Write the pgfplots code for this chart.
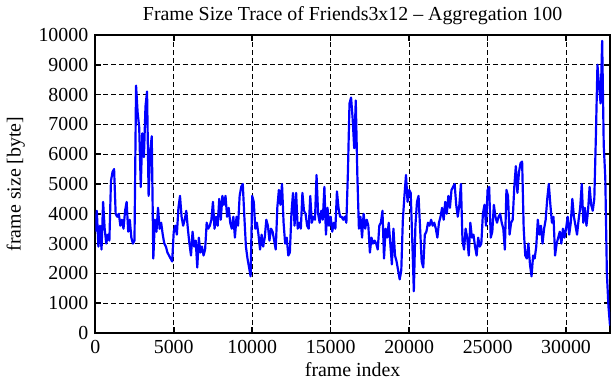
\documentclass[border=0pt]{standalone}
\usepackage{fontspec}
\setmainfont{Liberation Serif}
\usepackage{pgfplots}
\pgfplotsset{compat=1.18}
\begin{document}
\begin{tikzpicture}
\begin{axis}[
  scale only axis, width=259pt, height=150pt,
  xmin=0, xmax=32800, ymin=0, ymax=10000,
  xtick={0,5000,...,30000}, ytick={0,1000,...,10000},
  grid=major,
  grid style={black, line width=0.5pt, dash pattern=on 2.5pt off 1.5pt},
  axis line style={line width=1pt},
  tick style={black, line width=0.8pt},
  major tick length=3pt,
  tick align=inside,
  scaled ticks=false,
  /pgf/number format/1000 sep={},
  /pgf/number format/assume math mode=true,
  title={Frame Size Trace of Friends3x12 -- Aggregation 100},
  title style={yshift=-4.5pt},
  xlabel={frame index}, ylabel={frame size [byte]},
  xlabel style={yshift=2.5pt},
]
\addplot[color={rgb,255:red,0;green,0;blue,255}, line width=1.1pt, line join=round] table {
x y
0 3400
100 4100
200 2900
300 3600
400 2800
500 4400
600 3500
700 3000
800 3300
900 3100
1000 5100
1100 5400
1200 5500
1300 4000
1400 3900
1500 4000
1600 3600
1700 3800
1800 3500
1900 4100
2000 4400
2100 3400
2200 3800
2300 3200
2400 3000
2500 3100
2600 8300
2700 7400
2800 6900
2900 4900
3000 6700
3100 5900
3200 7600
3300 8100
3400 4600
3500 6100
3600 6600
3700 2500
3800 3800
3900 3400
4000 4200
4100 3500
4200 3700
4300 3300
4400 3000
4500 2900
4600 2700
4700 2600
4800 2500
4900 2400
5000 3400
5100 3600
5200 3300
5300 4200
5400 4600
5500 3900
5600 3600
5700 3800
5800 4100
5900 3500
6000 3000
6100 2600
6200 3400
6300 2900
6400 3100
6500 2200
6600 3200
6700 2700
6800 2900
6900 2600
7000 2800
7100 3700
7200 3500
7300 3600
7400 3800
7500 4400
7600 3500
7700 3900
7800 3600
7900 4500
8000 3800
8100 4600
8200 4300
8300 4600
8400 3900
8500 4200
8600 3700
8700 3500
8800 3900
8900 3200
9000 3900
9100 3600
9200 4600
9300 4900
9400 5000
9500 3900
9600 2900
9700 2500
9800 2200
9900 1900
10000 4600
10100 4400
10200 3500
10300 3700
10400 3300
10500 2800
10600 3300
10700 2900
10800 3200
10900 3800
11000 3600
11100 3100
11200 3500
11300 3400
11400 3100
11500 2800
11600 4200
11700 4800
11800 4300
11900 5000
12000 3700
12100 3000
12200 3200
12300 2600
12400 2700
12500 4000
12600 4700
12700 3600
12800 4700
12900 3500
13000 3700
13100 3500
13200 4700
13300 4100
13400 4000
13500 3600
13600 3500
13700 4600
13800 3700
13900 3900
14000 3800
14100 5300
14200 4000
14300 3700
14400 4100
14500 3800
14600 4900
14700 3300
14800 4200
14900 3600
15000 3900
15100 3400
15200 3700
15300 3500
15400 4750
15500 4200
15600 3900
15700 3900
15800 3800
15900 3900
16000 3700
16100 5400
16200 7700
16300 7900
16400 7200
16500 6200
16600 7800
16700 5300
16800 3500
16900 3900
17000 3200
17100 4000
17200 3500
17300 3800
17400 3600
17500 2700
17600 3200
17700 3000
17800 3100
17900 3000
18000 2800
18100 3600
18200 3700
18300 4100
18400 2500
18500 3500
18600 3200
18700 3700
18800 3000
18900 2300
19000 3500
19100 2600
19200 2400
19300 2100
19400 1800
19500 2100
19600 3800
19700 4600
19800 5300
19900 4400
20000 4800
20100 4700
20200 3100
20300 1400
20400 3600
20500 4400
20600 4600
20700 3500
20800 2400
20900 2200
21000 3300
21100 3400
21200 3700
21300 3600
21400 3800
21500 3600
21600 3700
21700 3500
21800 3200
21900 3700
22000 3900
22100 4200
22200 3800
22300 4400
22400 4000
22500 4600
22600 4200
22700 4800
22800 4900
22900 5000
23000 4300
23100 3900
23200 4300
23300 5000
23400 3100
23500 2800
23600 3500
23700 3200
23800 2600
23900 3700
24000 3200
24100 3300
24200 2900
24300 2600
24400 3200
24500 2900
24600 3000
24700 4000
24800 4300
24900 3600
25000 4800
25100 4900
25200 3200
25300 3400
25400 4300
25500 3900
25600 3700
25700 3900
25800 4000
25900 3700
26000 3500
26100 2800
26200 4800
26300 4600
26400 3300
26500 3700
26600 3800
26700 4900
26800 5600
26900 4700
27000 5400
27100 5700
27200 5750
27300 3500
27400 2600
27500 2500
27600 3000
27700 2300
27800 1900
27900 2600
28000 2500
28100 2900
28200 3800
28300 3300
28400 3600
28500 3000
28600 3500
28700 3800
28800 4500
28900 5000
29000 4300
29100 3700
29200 3900
29300 2600
29400 3000
29500 3200
29600 3400
29700 3000
29800 3500
29900 3200
30000 3500
30100 3900
30200 3300
30300 3700
30400 4500
30500 3900
30600 3600
30700 3300
30800 3800
30900 4200
31000 5000
31100 3700
31200 4200
31300 3600
31400 4100
31500 4900
31600 4300
31700 4100
31800 4500
31900 6600
32000 9000
32100 8300
32200 7700
32300 9800
32400 6300
32500 5200
32600 2000
32700 900
32800 250
};
\end{axis}
\end{tikzpicture}
\end{document}
